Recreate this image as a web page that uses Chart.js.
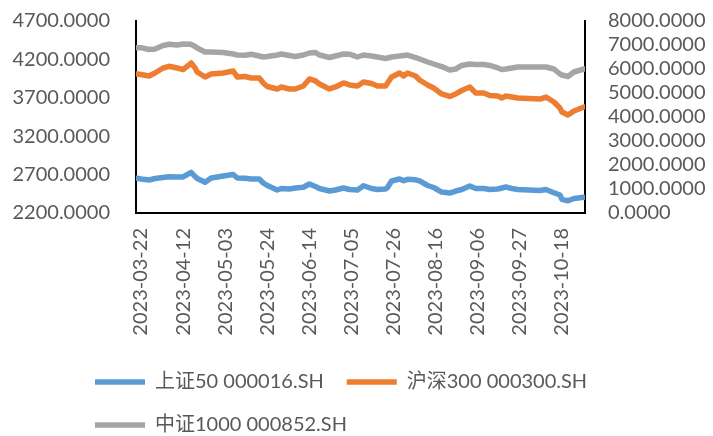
<!DOCTYPE html>
<html>
<head>
<meta charset="utf-8">
<script src="https://cdn.jsdelivr.net/npm/chart.js@4.4.1/dist/chart.umd.min.js"></script>
<style>
html,body{margin:0;padding:0;background:#fff;}
#wrap{width:713px;height:436px;position:relative;}
</style>
</head>
<body>
<div id="wrap"><canvas id="c" width="713" height="436"></canvas></div>
<script>
// ---- data ----
const dates = ['2023-03-22','2023-03-24','2023-03-28','2023-03-31','2023-04-04','2023-04-07','2023-04-11','2023-04-14','2023-04-18','2023-04-20',
  '2023-04-21','2023-04-25','2023-04-28','2023-05-04','2023-05-09','2023-05-11','2023-05-15','2023-05-18','2023-05-22','2023-05-24',
  '2023-05-26','2023-05-31','2023-06-02','2023-06-06','2023-06-09','2023-06-13','2023-06-16','2023-06-19','2023-06-21','2023-06-26',
  '2023-06-29','2023-07-03','2023-07-06','2023-07-10','2023-07-13','2023-07-17','2023-07-20','2023-07-24','2023-07-25','2023-07-27',
  '2023-07-31','2023-08-02','2023-08-04','2023-08-08','2023-08-10','2023-08-14','2023-08-17','2023-08-21','2023-08-25','2023-08-28',
  '2023-08-31','2023-09-04','2023-09-07','2023-09-11','2023-09-14','2023-09-18','2023-09-20','2023-09-22','2023-09-25','2023-09-28',
  '2023-10-09','2023-10-12','2023-10-16','2023-10-19','2023-10-20','2023-10-23','2023-10-26','2023-10-31'];

const sz50 = [2652,2643,2630,2649,2662,2671,2669,2669,2730,2675,
  2649,2600,2656,2682,2701,2656,2652,2643,2643,2591,
  2558,2500,2519,2513,2526,2535,2578,2545,2519,2486,
  2500,2526,2506,2500,2555,2519,2506,2513,2532,2617,
  2643,2621,2639,2632,2617,2558,2532,2473,2460,2486,
  2506,2552,2519,2519,2506,2513,2526,2539,2519,2506,
  2493,2506,2464,2434,2378,2360,2389,2404];

const hs300 = [4010,4003,3984,4023,4088,4110,4088,4068,4153,4088,
  4036,3971,4010,4023,4049,3971,3977,3958,3958,3893,
  3847,3815,3841,3815,3815,3854,3945,3919,3880,3815,
  3841,3893,3867,3854,3906,3886,3854,3854,3893,3971,
  4023,3984,4023,3984,3932,3867,3828,3750,3717,3750,
  3795,3841,3763,3763,3730,3723,3697,3723,3710,3697,
  3684,3710,3645,3567,3515,3476,3528,3580];

const zz1000 = [6888,6888,6813,6833,6979,7033,7000,7042,7029,6938,
  6875,6708,6708,6688,6625,6583,6571,6613,6542,6500,
  6521,6583,6625,6563,6521,6583,6667,6688,6583,6479,
  6542,6625,6617,6500,6583,6542,6500,6438,6458,6500,
  6542,6563,6583,6479,6417,6292,6208,6104,5958,6000,
  6146,6208,6188,6188,6146,6042,5979,6000,6042,6083,
  6083,6083,6000,5792,5750,5688,5875,6000];

const xTickLabels = ['2023-03-22','2023-04-12','2023-05-03','2023-05-24','2023-06-14','2023-07-05',
  '2023-07-26','2023-08-16','2023-09-06','2023-09-27','2023-10-18'];
const seriesNames = ['上证50 000016.SH','沪深300 000300.SH','中证1000 000852.SH'];
const firstDate = '2023-03-22';
const lastDate = '2023-10-31';

// ---- helpers ----
const t0 = Date.UTC(2023, 2, 22);
function dayIndex(s) {
  const [y, m, d] = s.split('-').map(Number);
  return Math.round((Date.UTC(y, m - 1, d) - t0) / 86400000);
}
const toPoints = arr => arr.map((v, i) => ({ x: dayIndex(dates[i]), y: v }));

const FONT = "Lato, 'Noto Sans CJK SC', sans-serif";
Chart.defaults.font.family = FONT;
Chart.defaults.font.size = 20;
Chart.defaults.color = '#595959';

const legendShift = {
  id: 'legendShift',
  beforeDraw(chart) { if (chart.legend) chart.legend.left = 72; }
};

const lineStyle = { borderWidth: 5.5, pointRadius: 0, tension: 0, borderCapStyle: 'round', borderJoinStyle: 'round', fill: false };

new Chart(document.getElementById('c'), {
  type: 'line',
  data: {
    datasets: [
      Object.assign({ label: seriesNames[0], data: toPoints(sz50), borderColor: '#5B9BD5', backgroundColor: '#5B9BD5', yAxisID: 'y' }, lineStyle),
      Object.assign({ label: seriesNames[1], data: toPoints(hs300), borderColor: '#ED7D31', backgroundColor: '#ED7D31', yAxisID: 'y' }, lineStyle),
      Object.assign({ label: seriesNames[2], data: toPoints(zz1000), borderColor: '#A5A5A5', backgroundColor: '#A5A5A5', yAxisID: 'y1' }, lineStyle)
    ]
  },
  options: {
    responsive: false,
    animation: false,
    devicePixelRatio: 1,
    layout: { padding: { left: 10, top: 21, right: 0, bottom: 0 } },
    plugins: {
      tooltip: { enabled: false },
      legend: {
        position: 'bottom',
        align: 'start',
        maxHeight: 87,
        labels: {
          usePointStyle: true,
          pointStyle: 'line',
          pointStyleWidth: 50,
          padding: 23,
          color: '#595959',
          font: { size: 20, family: FONT }
        }
      }
    },
    scales: {
      x: {
        type: 'linear',
        min: dayIndex(firstDate) - 0.5,
        max: dayIndex(lastDate) + 0.5,
        grid: { display: false, drawTicks: false },
        border: { display: true, color: '#000', width: 2 },
        afterBuildTicks: s => { s.ticks = xTickLabels.map(l => ({ value: dayIndex(l) })); },
        afterFit: s => { s.height = 136; },
        ticks: {
          autoSkip: false,
          minRotation: 90,
          maxRotation: 90,
          padding: 15,
          labelOffset: 4,
          color: '#595959',
          callback: (v, i) => xTickLabels[i]
        }
      },
      y: {
        position: 'left',
        min: 2200, max: 4700,
        grid: { display: false, drawTicks: true, tickLength: 26 },
        border: { display: true, color: '#000', width: 2 },
        afterFit: s => { s.width = 126; },
        ticks: { stepSize: 500, autoSkip: false, padding: 0, color: '#595959', callback: v => Number(v).toFixed(4) }
      },
      y1: {
        position: 'right',
        min: 0, max: 8000,
        grid: { display: false, drawTicks: true, tickLength: 23 },
        border: { display: true, color: '#000', width: 2 },
        afterFit: s => { s.width = 128; },
        ticks: { stepSize: 1000, autoSkip: false, padding: 0, color: '#595959', callback: v => Number(v).toFixed(4) }
      }
    }
  },
  plugins: [legendShift]
});
</script>
</body>
</html>
